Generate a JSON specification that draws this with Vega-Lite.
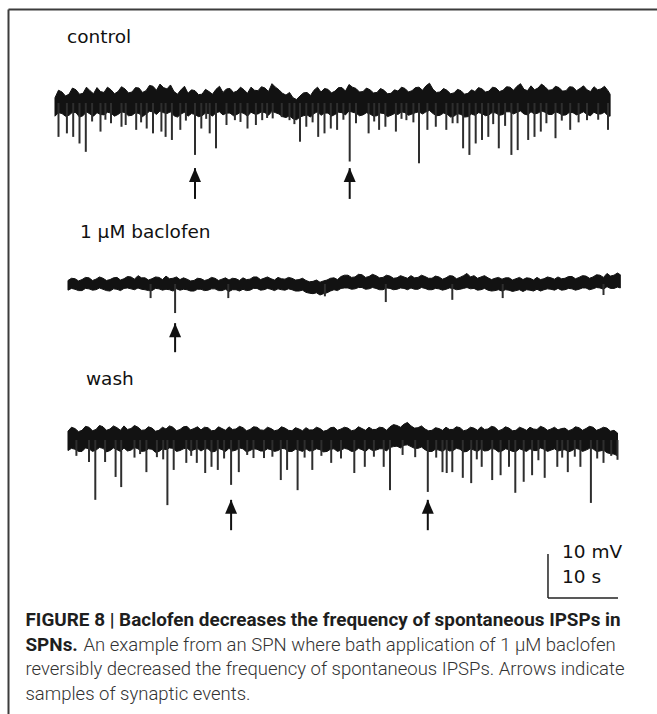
{
  "$schema": "https://vega.github.io/schema/vega-lite/v6.json",
  "width": 649,
  "height": 705,
  "autosize": {"type": "none"},
  "padding": {"left": 8, "top": 9, "right": 0, "bottom": 0},
  "background": "#ffffff",
  "config": {"view": {"stroke": null}},
  "datasets": {
    "controlBand": [
      {"t":0,"hi":1.2,"lo":-3.0},{"t":0.5,"hi":2.9,"lo":-2.2},{"t":1,"hi":2.5,"lo":-2.4},{"t":1.5,"hi":1.6,"lo":-3.0},{"t":2,"hi":2.0,"lo":-2.8},{"t":2.5,"hi":3.4,"lo":-2.1},
      {"t":3,"hi":3.0,"lo":-2.2},{"t":3.5,"hi":2.0,"lo":-3.2},{"t":4,"hi":2.2,"lo":-2.9},{"t":4.5,"hi":3.6,"lo":-2.0},{"t":5,"hi":2.8,"lo":-2.5},{"t":5.5,"hi":2.1,"lo":-3.0},
      {"t":6,"hi":3.5,"lo":-2.2},{"t":6.5,"hi":2.6,"lo":-2.6},{"t":7,"hi":2.4,"lo":-2.7},{"t":7.5,"hi":3.6,"lo":-2.1},{"t":8,"hi":3.0,"lo":-2.3},{"t":8.5,"hi":2.1,"lo":-3.0},
      {"t":9,"hi":2.6,"lo":-2.6},{"t":9.5,"hi":3.7,"lo":-2.0},{"t":10,"hi":3.2,"lo":-2.2},{"t":10.5,"hi":2.3,"lo":-2.9},{"t":11,"hi":2.5,"lo":-2.8},{"t":11.5,"hi":3.5,"lo":-2.2},
      {"t":12,"hi":3.4,"lo":-2.4},{"t":12.5,"hi":2.4,"lo":-3.1},{"t":13,"hi":2.8,"lo":-2.5},{"t":13.5,"hi":4.0,"lo":-1.9},{"t":14,"hi":3.8,"lo":-2.0},{"t":14.5,"hi":2.9,"lo":-2.6},
      {"t":15,"hi":4.3,"lo":-1.8},{"t":15.5,"hi":3.5,"lo":-2.2},{"t":16,"hi":3.2,"lo":-2.4},{"t":16.5,"hi":4.1,"lo":-2.0},{"t":17,"hi":2.6,"lo":-2.9},{"t":17.5,"hi":2.0,"lo":-3.2},
      {"t":18,"hi":3.0,"lo":-2.5},{"t":18.5,"hi":3.8,"lo":-2.1},{"t":19,"hi":2.2,"lo":-3.0},{"t":19.5,"hi":3.0,"lo":-2.4},{"t":20,"hi":2.8,"lo":-2.6},{"t":20.5,"hi":1.9,"lo":-3.1},
      {"t":21,"hi":2.0,"lo":-2.9},{"t":21.5,"hi":3.1,"lo":-2.3},{"t":22,"hi":2.6,"lo":-2.4},{"t":22.5,"hi":2.0,"lo":-3.0},{"t":23,"hi":3.1,"lo":-2.2},{"t":23.5,"hi":3.8,"lo":-2.0},
      {"t":24,"hi":2.4,"lo":-2.7},{"t":24.5,"hi":3.2,"lo":-2.3},{"t":25,"hi":3.3,"lo":-2.3},{"t":25.5,"hi":2.4,"lo":-2.9},{"t":26,"hi":2.7,"lo":-2.6},{"t":26.5,"hi":3.6,"lo":-2.1},
      {"t":27,"hi":3.0,"lo":-2.4},{"t":27.5,"hi":2.2,"lo":-3.0},{"t":28,"hi":3.6,"lo":-2.1},{"t":28.5,"hi":2.9,"lo":-2.5},{"t":29,"hi":2.8,"lo":-2.5},{"t":29.5,"hi":3.7,"lo":-2.0},
      {"t":30,"hi":3.4,"lo":-2.2},{"t":30.5,"hi":2.6,"lo":-2.8},{"t":31,"hi":4.4,"lo":-1.9},{"t":31.5,"hi":3.6,"lo":-2.2},{"t":32,"hi":3.0,"lo":-2.5},{"t":32.5,"hi":2.2,"lo":-3.1},
      {"t":33,"hi":1.8,"lo":-3.3},{"t":33.5,"hi":2.4,"lo":-2.9},{"t":34,"hi":1.2,"lo":-3.6},{"t":34.5,"hi":0.8,"lo":-3.8},{"t":35,"hi":1.6,"lo":-3.2},{"t":35.5,"hi":2.3,"lo":-2.9},
      {"t":36,"hi":2.4,"lo":-2.7},{"t":36.5,"hi":1.7,"lo":-3.2},{"t":37,"hi":2.9,"lo":-2.4},{"t":37.5,"hi":3.6,"lo":-2.0},{"t":38,"hi":2.5,"lo":-2.8},{"t":38.5,"hi":3.3,"lo":-2.3},
      {"t":39,"hi":3.1,"lo":-2.3},{"t":39.5,"hi":2.3,"lo":-3.0},{"t":40,"hi":2.7,"lo":-2.6},{"t":40.5,"hi":3.5,"lo":-2.1},{"t":41,"hi":3.5,"lo":-2.2},{"t":41.5,"hi":2.7,"lo":-2.7},
      {"t":42,"hi":4.2,"lo":-1.8},{"t":42.5,"hi":3.6,"lo":-2.1},{"t":43,"hi":3.3,"lo":-2.3},{"t":43.5,"hi":2.5,"lo":-2.9},{"t":44,"hi":2.6,"lo":-2.7},{"t":44.5,"hi":3.4,"lo":-2.2},
      {"t":45,"hi":3.0,"lo":-2.5},{"t":45.5,"hi":2.3,"lo":-3.0},{"t":46,"hi":2.4,"lo":-2.9},{"t":46.5,"hi":3.3,"lo":-2.3},{"t":47,"hi":2.9,"lo":-2.4},{"t":47.5,"hi":2.1,"lo":-3.1},
      {"t":48,"hi":2.2,"lo":-2.8},{"t":48.5,"hi":3.0,"lo":-2.4},{"t":49,"hi":2.7,"lo":-2.6},{"t":49.5,"hi":3.6,"lo":-2.0},{"t":50,"hi":3.3,"lo":-2.2},{"t":50.5,"hi":2.5,"lo":-2.8},
      {"t":51,"hi":2.8,"lo":-2.5},{"t":51.5,"hi":3.5,"lo":-2.2},{"t":52,"hi":3.6,"lo":-2.0},{"t":52.5,"hi":2.9,"lo":-2.5},{"t":53,"hi":3.9,"lo":-2.0},{"t":53.5,"hi":4.5,"lo":-1.7},
      {"t":54,"hi":3.1,"lo":-2.4},{"t":54.5,"hi":2.4,"lo":-2.9},{"t":55,"hi":2.5,"lo":-2.8},{"t":55.5,"hi":3.3,"lo":-2.3},{"t":56,"hi":2.9,"lo":-2.5},{"t":56.5,"hi":2.1,"lo":-3.2},
      {"t":57,"hi":2.3,"lo":-3.0},{"t":57.5,"hi":3.1,"lo":-2.4},{"t":58,"hi":2.8,"lo":-2.6},{"t":58.5,"hi":2.0,"lo":-3.2},{"t":59,"hi":2.2,"lo":-3.1},{"t":59.5,"hi":3.0,"lo":-2.5},
      {"t":60,"hi":2.6,"lo":-2.8},{"t":60.5,"hi":3.5,"lo":-2.2},{"t":61,"hi":3.2,"lo":-2.4},{"t":61.5,"hi":2.5,"lo":-2.9},{"t":62,"hi":2.7,"lo":-2.7},{"t":62.5,"hi":3.6,"lo":-2.1},
      {"t":63,"hi":3.4,"lo":-2.3},{"t":63.5,"hi":2.6,"lo":-2.8},{"t":64,"hi":2.9,"lo":-2.6},{"t":64.5,"hi":3.7,"lo":-2.0},{"t":65,"hi":3.6,"lo":-2.0},{"t":65.5,"hi":2.9,"lo":-2.5},
      {"t":66,"hi":3.8,"lo":-2.1},{"t":66.5,"hi":4.4,"lo":-1.8},{"t":67,"hi":3.1,"lo":-2.5},{"t":67.5,"hi":2.8,"lo":-2.7},{"t":68,"hi":3.9,"lo":-2.0},{"t":68.5,"hi":3.0,"lo":-2.5},
      {"t":69,"hi":3.4,"lo":-2.3},{"t":69.5,"hi":4.3,"lo":-1.8},{"t":70,"hi":3.7,"lo":-2.1},{"t":70.5,"hi":2.9,"lo":-2.6},{"t":71,"hi":3.0,"lo":-2.6},{"t":71.5,"hi":3.8,"lo":-2.0},
      {"t":72,"hi":3.5,"lo":-2.3},{"t":72.5,"hi":2.7,"lo":-2.8},{"t":73,"hi":2.8,"lo":-2.7},{"t":73.5,"hi":3.7,"lo":-2.1},{"t":74,"hi":3.6,"lo":-2.2},{"t":74.5,"hi":2.8,"lo":-2.7},
      {"t":75,"hi":3.3,"lo":-2.4},{"t":75.5,"hi":3.9,"lo":-2.0},{"t":76,"hi":3.0,"lo":-2.6},{"t":76.5,"hi":2.6,"lo":-2.9},{"t":77,"hi":3.7,"lo":-2.1},{"t":77.5,"hi":3.0,"lo":-2.5},
      {"t":78,"hi":3.2,"lo":-2.5},{"t":78.5,"hi":3.8,"lo":-2.1},{"t":79,"hi":2.8,"lo":-2.9},{"t":79.3,"hi":2.0,"lo":-3.0}
    ],
    "controlEvents": [
      {"t":0.5,"peak":-7.7},{"t":1.7,"peak":-6.9},{"t":2.6,"peak":-7.7},{"t":3.5,"peak":-9.2},{"t":4.4,"peak":-11.1},
      {"t":5.3,"peak":-4.2},{"t":6.5,"peak":-6.5},{"t":7.2,"peak":-3.8},{"t":8.0,"peak":-4.6},{"t":9.5,"peak":-5.4},{"t":10.1,"peak":-5.0},{"t":11.6,"peak":-6.1},
      {"t":12.3,"peak":-4.4},{"t":13.1,"peak":-5.8},{"t":14.0,"peak":-6.9},{"t":15.2,"peak":-6.5},{"t":15.8,"peak":-7.7},{"t":16.7,"peak":-8.4},
      {"t":17.9,"peak":-6.1},{"t":18.7,"peak":-4.0},{"t":20.0,"peak":-11.8},{"t":20.9,"peak":-5.8},{"t":21.6,"peak":-3.6},{"t":22.1,"peak":-6.9},{"t":23.0,"peak":-10.3},
      {"t":24.5,"peak":-5.0},{"t":25.7,"peak":-3.9},{"t":26.5,"peak":-4.3},{"t":27.5,"peak":-5.8},{"t":28.7,"peak":-5.0},{"t":29.6,"peak":-3.9},
      {"t":30.3,"peak":-3.4},{"t":31.1,"peak":-3.5},{"t":32.4,"peak":-3.2},{"t":33.5,"peak":-3.9},{"t":34.2,"peak":-4.8},{"t":35.0,"peak":-8.8},{"t":35.9,"peak":-5.4},
      {"t":36.8,"peak":-4.4},{"t":37.6,"peak":-7.7},{"t":38.5,"peak":-6.9},{"t":39.4,"peak":-5.8},{"t":40.3,"peak":-6.1},{"t":41.2,"peak":-3.8},{"t":42.1,"peak":-13.3},{"t":43.0,"peak":-4.6},
      {"t":44.8,"peak":-6.9},{"t":45.6,"peak":-4.2},{"t":46.3,"peak":-6.1},{"t":47.2,"peak":-5.4},{"t":48.7,"peak":-6.5},{"t":49.5,"peak":-3.6},{"t":50.2,"peak":-3.9},
      {"t":51.2,"peak":-4.4},{"t":52.0,"peak":-13.7},{"t":53.2,"peak":-6.1},{"t":54.4,"peak":-5.4},{"t":55.9,"peak":-6.1},{"t":56.8,"peak":-4.6},
      {"t":57.5,"peak":-4.6},{"t":58.3,"peak":-10.3},{"t":59.2,"peak":-11.8},{"t":60.1,"peak":-9.2},{"t":61.0,"peak":-8.4},{"t":61.9,"peak":-7.7},
      {"t":62.6,"peak":-4.8},{"t":63.4,"peak":-10.3},{"t":64.3,"peak":-5.2},{"t":65.2,"peak":-11.8},{"t":66.1,"peak":-10.7},{"t":67.6,"peak":-8.4},{"t":68.5,"peak":-7.7},
      {"t":69.4,"peak":-6.5},{"t":70.2,"peak":-4.6},{"t":71.5,"peak":-8.0},{"t":72.4,"peak":-4.0},{"t":73.6,"peak":-6.1},{"t":74.8,"peak":-4.4},{"t":76.0,"peak":-3.9},
      {"t":77.6,"peak":-3.8},{"t":79.0,"peak":-6.1}
    ],
    "controlArrows": [{"t":20.0,"tip":-14.8,"end":-21.8},{"t":42.1,"tip":-14.8,"end":-21.8}],
    "controlLabels": [{"t":1.71,"v":13.64,"text":"control"}],
    "baclofenBand": [
      {"t":0,"hi":0.8,"lo":-1.4},{"t":0.5,"hi":1.3,"lo":-1.0},{"t":1,"hi":1.2,"lo":-1.2},{"t":1.5,"hi":0.7,"lo":-1.5},{"t":2,"hi":1.0,"lo":-1.5},{"t":2.5,"hi":1.5,"lo":-1.0},
      {"t":3,"hi":1.4,"lo":-1.1},{"t":3.5,"hi":0.8,"lo":-1.4},{"t":4,"hi":1.1,"lo":-1.3},{"t":4.5,"hi":1.6,"lo":-0.9},{"t":5,"hi":1.3,"lo":-1.2},{"t":5.5,"hi":0.8,"lo":-1.5},
      {"t":6,"hi":1.0,"lo":-1.6},{"t":6.5,"hi":1.4,"lo":-1.1},{"t":7,"hi":1.5,"lo":-1.2},{"t":7.5,"hi":0.9,"lo":-1.5},{"t":8,"hi":1.2,"lo":-1.0},{"t":8.5,"hi":1.7,"lo":-0.9},
      {"t":9,"hi":1.6,"lo":-1.1},{"t":9.5,"hi":1.1,"lo":-1.3},{"t":10,"hi":1.9,"lo":-0.9},{"t":10.5,"hi":1.4,"lo":-1.2},{"t":11,"hi":1.4,"lo":-1.3},{"t":11.5,"hi":0.9,"lo":-1.5},
      {"t":12,"hi":1.2,"lo":-1.5},{"t":12.5,"hi":1.6,"lo":-1.0},{"t":13,"hi":1.5,"lo":-1.1},{"t":13.5,"hi":1.0,"lo":-1.4},{"t":14,"hi":1.8,"lo":-1.2},{"t":14.5,"hi":1.2,"lo":-1.3},
      {"t":15,"hi":1.3,"lo":-1.6},{"t":15.5,"hi":1.6,"lo":-1.1},{"t":16,"hi":1.0,"lo":-1.4},{"t":16.5,"hi":1.4,"lo":-1.2},{"t":17,"hi":1.1,"lo":-1.3},{"t":17.5,"hi":0.7,"lo":-1.6},
      {"t":18,"hi":0.8,"lo":-1.6},{"t":18.5,"hi":1.3,"lo":-1.2},{"t":19,"hi":1.2,"lo":-1.2},{"t":19.5,"hi":0.8,"lo":-1.5},{"t":20,"hi":1.0,"lo":-1.4},{"t":20.5,"hi":1.5,"lo":-1.1},
      {"t":21,"hi":1.3,"lo":-1.1},{"t":21.5,"hi":0.8,"lo":-1.5},{"t":22,"hi":1.1,"lo":-1.5},{"t":22.5,"hi":1.4,"lo":-1.2},{"t":23,"hi":0.9,"lo":-1.7},{"t":23.5,"hi":1.3,"lo":-1.3},
      {"t":24,"hi":1.2,"lo":-1.3},{"t":24.5,"hi":0.8,"lo":-1.6},{"t":25,"hi":1.4,"lo":-1.2},{"t":25.5,"hi":1.0,"lo":-1.5},{"t":26,"hi":1.1,"lo":-1.4},{"t":26.5,"hi":1.6,"lo":-1.0},
      {"t":27,"hi":1.6,"lo":-1.0},{"t":27.5,"hi":1.0,"lo":-1.4},{"t":28,"hi":1.3,"lo":-1.3},{"t":28.5,"hi":1.6,"lo":-1.0},{"t":29,"hi":1.2,"lo":-1.2},{"t":29.5,"hi":0.9,"lo":-1.5},
      {"t":30,"hi":1.5,"lo":-1.1},{"t":30.5,"hi":1.2,"lo":-1.3},{"t":31,"hi":1.1,"lo":-1.4},{"t":31.5,"hi":1.5,"lo":-1.1},{"t":32,"hi":1.3,"lo":-1.3},{"t":32.5,"hi":0.9,"lo":-1.6},
      {"t":33,"hi":1.0,"lo":-1.6},{"t":33.5,"hi":1.3,"lo":-1.4},{"t":34,"hi":0.8,"lo":-1.9},{"t":34.5,"hi":0.5,"lo":-2.1},{"t":35,"hi":0.6,"lo":-2.2},{"t":35.5,"hi":0.9,"lo":-2.0},
      {"t":36,"hi":0.4,"lo":-2.5},{"t":36.5,"hi":0.7,"lo":-2.2},{"t":37,"hi":0.9,"lo":-2.0},{"t":37.5,"hi":1.3,"lo":-1.6},{"t":38,"hi":1.4,"lo":-1.3},{"t":38.5,"hi":1.0,"lo":-1.5},
      {"t":39,"hi":1.7,"lo":-1.0},{"t":39.5,"hi":2.0,"lo":-0.9},{"t":40,"hi":2.0,"lo":-0.9},{"t":40.5,"hi":1.5,"lo":-1.2},{"t":41,"hi":1.6,"lo":-1.1},{"t":41.5,"hi":2.2,"lo":-0.8},
      {"t":42,"hi":2.1,"lo":-0.8},{"t":42.5,"hi":1.5,"lo":-1.2},{"t":43,"hi":1.7,"lo":-1.1},{"t":43.5,"hi":2.2,"lo":-0.8},{"t":44,"hi":1.9,"lo":-1.0},{"t":44.5,"hi":1.4,"lo":-1.3},
      {"t":45,"hi":1.5,"lo":-1.3},{"t":45.5,"hi":2.0,"lo":-0.9},{"t":46,"hi":1.8,"lo":-1.0},{"t":46.5,"hi":1.3,"lo":-1.3},{"t":47,"hi":1.4,"lo":-1.2},{"t":47.5,"hi":1.9,"lo":-0.9},
      {"t":48,"hi":1.6,"lo":-1.0},{"t":48.5,"hi":1.3,"lo":-1.3},{"t":49,"hi":1.9,"lo":-0.9},{"t":49.5,"hi":1.4,"lo":-1.2},{"t":50,"hi":1.5,"lo":-1.2},{"t":50.5,"hi":2.0,"lo":-0.8},
      {"t":51,"hi":1.7,"lo":-1.0},{"t":51.5,"hi":1.3,"lo":-1.3},{"t":52,"hi":1.3,"lo":-1.3},{"t":52.5,"hi":1.8,"lo":-1.0},{"t":53,"hi":1.6,"lo":-1.1},{"t":53.5,"hi":1.1,"lo":-1.4},
      {"t":54,"hi":1.4,"lo":-1.2},{"t":54.5,"hi":1.9,"lo":-0.9},{"t":55,"hi":1.8,"lo":-1.0},{"t":55.5,"hi":1.2,"lo":-1.3},{"t":56,"hi":1.5,"lo":-1.2},{"t":56.5,"hi":1.9,"lo":-1.0},
      {"t":57,"hi":2.4,"lo":-0.8},{"t":57.5,"hi":1.6,"lo":-1.1},{"t":58,"hi":1.9,"lo":-1.0},{"t":58.5,"hi":1.3,"lo":-1.4},{"t":59,"hi":1.6,"lo":-1.3},{"t":59.5,"hi":1.9,"lo":-1.0},
      {"t":60,"hi":1.4,"lo":-1.4},{"t":60.5,"hi":1.0,"lo":-1.6},{"t":61,"hi":1.3,"lo":-1.5},{"t":61.5,"hi":1.5,"lo":-1.3},{"t":62,"hi":1.1,"lo":-1.6},{"t":62.5,"hi":1.4,"lo":-1.3},
      {"t":63,"hi":1.4,"lo":-1.4},{"t":63.5,"hi":0.9,"lo":-1.7},{"t":64,"hi":1.2,"lo":-1.5},{"t":64.5,"hi":1.5,"lo":-1.3},{"t":65,"hi":1.0,"lo":-1.7},{"t":65.5,"hi":1.4,"lo":-1.3},
      {"t":66,"hi":1.3,"lo":-1.4},{"t":66.5,"hi":0.9,"lo":-1.6},{"t":67,"hi":1.5,"lo":-1.2},{"t":67.5,"hi":1.0,"lo":-1.6},{"t":68,"hi":1.2,"lo":-1.3},{"t":68.5,"hi":1.6,"lo":-1.1},
      {"t":69,"hi":1.4,"lo":-1.2},{"t":69.5,"hi":1.1,"lo":-1.4},{"t":70,"hi":1.6,"lo":-1.0},{"t":70.5,"hi":1.2,"lo":-1.4},{"t":71,"hi":1.3,"lo":-1.3},{"t":71.5,"hi":1.7,"lo":-1.0},
      {"t":72,"hi":1.7,"lo":-1.1},{"t":72.5,"hi":1.2,"lo":-1.4},{"t":73,"hi":1.5,"lo":-1.2},{"t":73.5,"hi":1.9,"lo":-0.9},{"t":74,"hi":1.8,"lo":-0.9},{"t":74.5,"hi":1.3,"lo":-1.3},
      {"t":75,"hi":1.6,"lo":-1.1},{"t":75.5,"hi":2.1,"lo":-0.8},{"t":76,"hi":2.0,"lo":-0.9},{"t":76.5,"hi":1.5,"lo":-1.2},{"t":77,"hi":2.4,"lo":-0.6},{"t":77.5,"hi":1.8,"lo":-1.0},
      {"t":78,"hi":2.0,"lo":-1.0},{"t":78.5,"hi":2.5,"lo":-0.7},{"t":78.9,"hi":2.1,"lo":-0.9}
    ],
    "baclofenEvents": [
      {"t":11.8,"peak":-3.2},{"t":15.3,"peak":-6.6},{"t":22.9,"peak":-3.2},{"t":36.7,"peak":-2.8},{"t":45.4,"peak":-4.1},
      {"t":54.9,"peak":-3.6},{"t":62.1,"peak":-3.2},{"t":76.5,"peak":-2.5}
    ],
    "baclofenArrows": [{"t":15.3,"tip":-8.9,"end":-15.5}],
    "baclofenLabels": [{"t":1.71,"v":10.45,"text":"1 µM baclofen"}],
    "washBand": [
      {"t":0,"hi":2.0,"lo":-2.4},{"t":0.5,"hi":2.9,"lo":-1.9},{"t":1,"hi":2.6,"lo":-2.1},{"t":1.5,"hi":1.9,"lo":-2.6},{"t":2,"hi":2.2,"lo":-2.6},{"t":2.5,"hi":3.1,"lo":-1.8},
      {"t":3,"hi":2.9,"lo":-2.0},{"t":3.5,"hi":2.1,"lo":-2.6},{"t":4,"hi":2.4,"lo":-2.3},{"t":4.5,"hi":3.3,"lo":-1.7},{"t":5,"hi":3.0,"lo":-1.9},{"t":5.5,"hi":2.2,"lo":-2.7},
      {"t":6,"hi":2.5,"lo":-2.4},{"t":6.5,"hi":3.2,"lo":-1.8},{"t":7,"hi":2.8,"lo":-2.2},{"t":7.5,"hi":2.2,"lo":-2.6},{"t":8,"hi":3.2,"lo":-1.8},{"t":8.5,"hi":2.4,"lo":-2.5},
      {"t":9,"hi":2.6,"lo":-2.3},{"t":9.5,"hi":3.3,"lo":-1.7},{"t":10,"hi":2.9,"lo":-2.0},{"t":10.5,"hi":2.2,"lo":-2.6},{"t":11,"hi":2.3,"lo":-2.5},{"t":11.5,"hi":3.0,"lo":-2.0},
      {"t":12,"hi":2.7,"lo":-2.1},{"t":12.5,"hi":2.0,"lo":-2.8},{"t":13,"hi":2.2,"lo":-2.6},{"t":13.5,"hi":2.9,"lo":-2.0},{"t":14,"hi":2.5,"lo":-2.2},{"t":14.5,"hi":3.2,"lo":-1.8},
      {"t":15,"hi":2.9,"lo":-1.9},{"t":15.5,"hi":2.1,"lo":-2.6},{"t":16,"hi":2.4,"lo":-2.4},{"t":16.5,"hi":3.0,"lo":-2.0},{"t":17,"hi":3.1,"lo":-1.8},{"t":17.5,"hi":2.3,"lo":-2.5},
      {"t":18,"hi":2.6,"lo":-2.2},{"t":18.5,"hi":3.0,"lo":-1.9},{"t":19,"hi":2.3,"lo":-2.5},{"t":19.5,"hi":2.9,"lo":-2.0},{"t":20,"hi":2.8,"lo":-2.0},{"t":20.5,"hi":2.1,"lo":-2.7},
      {"t":21,"hi":2.2,"lo":-2.6},{"t":21.5,"hi":3.0,"lo":-1.9},{"t":22,"hi":2.6,"lo":-2.2},{"t":22.5,"hi":2.2,"lo":-2.6},{"t":23,"hi":3.0,"lo":-1.9},{"t":23.5,"hi":2.4,"lo":-2.5},
      {"t":24,"hi":2.5,"lo":-2.3},{"t":24.5,"hi":3.1,"lo":-1.8},{"t":25,"hi":2.8,"lo":-2.0},{"t":25.5,"hi":2.1,"lo":-2.7},{"t":26,"hi":2.4,"lo":-2.4},{"t":26.5,"hi":3.0,"lo":-2.0},
      {"t":27,"hi":2.9,"lo":-2.1},{"t":27.5,"hi":2.3,"lo":-2.5},{"t":28,"hi":2.2,"lo":-2.5},{"t":28.5,"hi":2.9,"lo":-2.0},{"t":29,"hi":2.6,"lo":-2.2},{"t":29.5,"hi":2.1,"lo":-2.6},
      {"t":30,"hi":2.3,"lo":-2.4},{"t":30.5,"hi":3.0,"lo":-1.9},{"t":31,"hi":2.7,"lo":-2.0},{"t":31.5,"hi":2.2,"lo":-2.6},{"t":32,"hi":2.1,"lo":-2.6},{"t":32.5,"hi":2.8,"lo":-2.1},
      {"t":33,"hi":2.5,"lo":-2.3},{"t":33.5,"hi":2.1,"lo":-2.6},{"t":34,"hi":2.8,"lo":-2.0},{"t":34.5,"hi":2.3,"lo":-2.5},{"t":35,"hi":2.3,"lo":-2.4},{"t":35.5,"hi":2.9,"lo":-2.0},
      {"t":36,"hi":2.6,"lo":-2.2},{"t":36.5,"hi":2.0,"lo":-2.7},{"t":37,"hi":2.2,"lo":-2.6},{"t":37.5,"hi":2.8,"lo":-2.1},{"t":38,"hi":2.9,"lo":-2.0},{"t":38.5,"hi":2.2,"lo":-2.6},
      {"t":39,"hi":2.5,"lo":-2.3},{"t":39.5,"hi":2.9,"lo":-1.9},{"t":40,"hi":2.7,"lo":-2.1},{"t":40.5,"hi":2.1,"lo":-2.6},{"t":41,"hi":2.3,"lo":-2.5},{"t":41.5,"hi":3.0,"lo":-1.9},
      {"t":42,"hi":2.6,"lo":-2.2},{"t":42.5,"hi":2.2,"lo":-2.6},{"t":43,"hi":2.9,"lo":-1.9},{"t":43.5,"hi":2.4,"lo":-2.4},{"t":44,"hi":2.4,"lo":-2.3},{"t":44.5,"hi":2.9,"lo":-2.0},
      {"t":45,"hi":2.8,"lo":-2.0},{"t":45.5,"hi":2.2,"lo":-2.5},{"t":46,"hi":3.0,"lo":-1.7},{"t":46.5,"hi":3.5,"lo":-1.5},{"t":47,"hi":3.3,"lo":-1.4},{"t":47.5,"hi":2.9,"lo":-1.8},
      {"t":48,"hi":3.6,"lo":-1.2},{"t":48.5,"hi":4.0,"lo":-1.1},{"t":49,"hi":3.2,"lo":-1.5},{"t":49.5,"hi":2.7,"lo":-1.9},{"t":50,"hi":2.8,"lo":-1.9},{"t":50.5,"hi":3.2,"lo":-1.6},
      {"t":51,"hi":2.5,"lo":-2.2},{"t":51.5,"hi":2.1,"lo":-2.6},{"t":52,"hi":2.2,"lo":-2.6},{"t":52.5,"hi":2.8,"lo":-2.1},{"t":53,"hi":2.6,"lo":-2.3},{"t":53.5,"hi":2.2,"lo":-2.6},
      {"t":54,"hi":2.9,"lo":-2.0},{"t":54.5,"hi":2.4,"lo":-2.5},{"t":55,"hi":2.4,"lo":-2.4},{"t":55.5,"hi":3.0,"lo":-1.9},{"t":56,"hi":2.8,"lo":-2.1},{"t":56.5,"hi":2.1,"lo":-2.7},
      {"t":57,"hi":2.3,"lo":-2.6},{"t":57.5,"hi":2.9,"lo":-2.0},{"t":58,"hi":2.7,"lo":-2.3},{"t":58.5,"hi":2.2,"lo":-2.6},{"t":59,"hi":3.0,"lo":-2.0},{"t":59.5,"hi":2.4,"lo":-2.5},
      {"t":60,"hi":2.5,"lo":-2.4},{"t":60.5,"hi":3.1,"lo":-1.9},{"t":61,"hi":2.9,"lo":-2.1},{"t":61.5,"hi":2.1,"lo":-2.7},{"t":62,"hi":2.4,"lo":-2.5},{"t":62.5,"hi":3.0,"lo":-2.0},
      {"t":63,"hi":2.7,"lo":-2.2},{"t":63.5,"hi":2.1,"lo":-2.6},{"t":64,"hi":2.2,"lo":-2.6},{"t":64.5,"hi":2.9,"lo":-2.0},{"t":65,"hi":2.6,"lo":-2.3},{"t":65.5,"hi":2.2,"lo":-2.6},
      {"t":66,"hi":2.9,"lo":-2.0},{"t":66.5,"hi":2.5,"lo":-2.4},{"t":67,"hi":2.4,"lo":-2.4},{"t":67.5,"hi":3.1,"lo":-1.8},{"t":68,"hi":2.8,"lo":-2.1},{"t":68.5,"hi":2.2,"lo":-2.6},
      {"t":69,"hi":2.5,"lo":-2.3},{"t":69.5,"hi":2.9,"lo":-2.0},{"t":70,"hi":2.3,"lo":-2.5},{"t":70.5,"hi":2.6,"lo":-2.3},{"t":71,"hi":2.7,"lo":-2.2},{"t":71.5,"hi":2.1,"lo":-2.7},
      {"t":72,"hi":2.4,"lo":-2.4},{"t":72.5,"hi":3.0,"lo":-1.9},{"t":73,"hi":2.8,"lo":-2.1},{"t":73.5,"hi":2.2,"lo":-2.6},{"t":74,"hi":2.6,"lo":-2.3},{"t":74.5,"hi":3.1,"lo":-1.9},
      {"t":75,"hi":2.9,"lo":-2.0},{"t":75.5,"hi":2.2,"lo":-2.6},{"t":76,"hi":2.5,"lo":-2.5},{"t":76.5,"hi":2.9,"lo":-2.3},{"t":77,"hi":2.7,"lo":-2.9},{"t":77.5,"hi":2.0,"lo":-3.1},
      {"t":78,"hi":2.2,"lo":-3.2},{"t":78.5,"hi":1.6,"lo":-3.6}
    ],
    "washEvents": [
      {"t":1.2,"peak":-3.6},{"t":3.0,"peak":-5.0},{"t":3.9,"peak":-13.6},{"t":5.3,"peak":-5.0},{"t":6.8,"peak":-8.4},{"t":7.6,"peak":-10.7},
      {"t":9.5,"peak":-4.0},{"t":10.3,"peak":-3.2},{"t":11.2,"peak":-7.3},{"t":12.7,"peak":-3.9},{"t":13.6,"peak":-4.4},{"t":14.2,"peak":-14.8},{"t":15.1,"peak":-6.8},{"t":16.9,"peak":-5.2},
      {"t":17.6,"peak":-3.6},{"t":18.4,"peak":-5.2},{"t":19.6,"peak":-7.5},{"t":20.5,"peak":-6.1},{"t":21.4,"peak":-6.8},{"t":22.3,"peak":-4.2},{"t":23.3,"peak":-10.2},
      {"t":24.4,"peak":-7.3},{"t":25.6,"peak":-3.4},{"t":26.5,"peak":-4.1},{"t":28.0,"peak":-4.1},{"t":29.2,"peak":-3.8},{"t":30.4,"peak":-9.1},{"t":31.3,"peak":-6.8},
      {"t":32.8,"peak":-11.4},{"t":33.8,"peak":-4.0},{"t":34.9,"peak":-6.8},{"t":36.2,"peak":-3.6},{"t":37.6,"peak":-5.2},{"t":39.0,"peak":-4.2},{"t":40.9,"peak":-7.5},{"t":42.4,"peak":-6.1},
      {"t":43.7,"peak":-3.8},{"t":45.1,"peak":-6.1},{"t":46.0,"peak":-11.4},{"t":47.8,"peak":-3.4},{"t":49.6,"peak":-3.9},{"t":51.4,"peak":-11.8},{"t":52.6,"peak":-4.0},{"t":53.5,"peak":-7.3},
      {"t":54.1,"peak":-7.5},{"t":54.9,"peak":-7.3},{"t":56.4,"peak":-8.6},{"t":57.6,"peak":-9.8},{"t":58.4,"peak":-4.4},{"t":59.1,"peak":-6.1},
      {"t":60.6,"peak":-9.1},{"t":61.8,"peak":-8.0},{"t":63.0,"peak":-6.1},{"t":63.9,"peak":-12.0},{"t":65.1,"peak":-9.5},
      {"t":66.3,"peak":-8.0},{"t":67.2,"peak":-4.6},{"t":68.1,"peak":-8.6},{"t":69.9,"peak":-6.1},{"t":70.6,"peak":-4.0},{"t":71.4,"peak":-7.3},{"t":72.4,"peak":-3.8},{"t":73.2,"peak":-6.1},
      {"t":74.7,"peak":-14.3},{"t":75.6,"peak":-4.2},{"t":76.5,"peak":-5.2},{"t":77.6,"peak":-3.6},{"t":78.5,"peak":-4.5}
    ],
    "washArrows": [{"t":23.3,"tip":-13.6,"end":-20.5},{"t":51.4,"tip":-13.6,"end":-20.5}],
    "washLabels": [
      {"t":2.57,"v":12.5,"text":"wash"},
      {"t":70.57,"v":-26.8,"text":"10 mV"},
      {"t":70.57,"v":-32.6,"text":"10 s"}
    ],
    "scaleBar": [
      {"t":68.57,"v":-25.9,"t2":68.57,"v2":-35.9},
      {"t":68.57,"v":-35.9,"t2":78.57,"v2":-35.9}
    ],
    "caption": [
      {"line":1,"part":"bold","text":"FIGURE 8 | Baclofen decreases the frequency of spontaneous IPSPs in"},
      {"line":2,"part":"bold","text":"SPNs."},
      {"line":2,"part":"lead","text":"An example from an SPN where bath application of 1 μM baclofen"},
      {"line":3,"part":"body","text":"reversibly decreased the frequency of spontaneous IPSPs. Arrows indicate"},
      {"line":4,"part":"body","text":"samples of synaptic events."}
    ]
  },
  "resolve": {"scale": {"x": "independent", "y": "independent"}},
  "layer": [
    {
      "layer": [
        {
          "data": {"name": "controlBand"},
          "mark": {"type": "area", "color": "#121212", "stroke": "#121212", "strokeWidth": 1},
          "encoding": {
            "x": {"field": "t", "type": "quantitative", "scale": {"domain": [-6.714, 86], "nice": false, "zero": false},
                  "axis": {"orient": "top", "title": null, "labels": false, "ticks": false, "grid": false, "domain": true, "domainColor": "#3c3c3c", "domainWidth": 2}},
            "y": {"field": "hi", "type": "quantitative", "scale": {"domain": [-138.864, 21.364], "nice": false, "zero": false},
                  "axis": {"orient": "left", "title": null, "labels": false, "ticks": false, "grid": false, "domain": true, "domainColor": "#3c3c3c", "domainWidth": 2}},
            "y2": {"field": "lo"}
          }
        },
        {
          "data": {"name": "controlEvents"},
          "mark": {"type": "rule", "color": "#2e2e2e", "strokeWidth": 2},
          "encoding": {
            "x": {"field": "t", "type": "quantitative", "scale": {"domain": [-6.714, 86], "nice": false, "zero": false},
                  "axis": {"orient": "top", "title": null, "labels": false, "ticks": false, "grid": false, "domain": true, "domainColor": "#3c3c3c", "domainWidth": 2}},
            "y": {"field": "peak", "type": "quantitative", "scale": {"domain": [-138.864, 21.364], "nice": false, "zero": false},
                  "axis": {"orient": "left", "title": null, "labels": false, "ticks": false, "grid": false, "domain": true, "domainColor": "#3c3c3c", "domainWidth": 2}},
            "y2": {"datum": 0}
          }
        },
        {
          "data": {"name": "controlArrows"},
          "mark": {"type": "rule", "color": "#111111", "strokeWidth": 2},
          "encoding": {
            "x": {"field": "t", "type": "quantitative", "scale": {"domain": [-6.714, 86], "nice": false, "zero": false},
                  "axis": {"orient": "top", "title": null, "labels": false, "ticks": false, "grid": false, "domain": true, "domainColor": "#3c3c3c", "domainWidth": 2}},
            "y": {"field": "tip", "type": "quantitative", "scale": {"domain": [-138.864, 21.364], "nice": false, "zero": false},
                  "axis": {"orient": "left", "title": null, "labels": false, "ticks": false, "grid": false, "domain": true, "domainColor": "#3c3c3c", "domainWidth": 2}},
            "y2": {"field": "end"}
          }
        },
        {
          "data": {"name": "controlArrows"},
          "mark": {"type": "point", "shape": "M0,0L0.857,2L-0.857,2Z", "filled": true, "size": 196, "color": "#111111", "opacity": 1},
          "encoding": {
            "x": {"field": "t", "type": "quantitative", "scale": {"domain": [-6.714, 86], "nice": false, "zero": false},
                  "axis": {"orient": "top", "title": null, "labels": false, "ticks": false, "grid": false, "domain": true, "domainColor": "#3c3c3c", "domainWidth": 2}},
            "y": {"field": "tip", "type": "quantitative", "scale": {"domain": [-138.864, 21.364], "nice": false, "zero": false},
                  "axis": {"orient": "left", "title": null, "labels": false, "ticks": false, "grid": false, "domain": true, "domainColor": "#3c3c3c", "domainWidth": 2}}
          }
        },
        {
          "data": {"name": "controlLabels"},
          "mark": {"type": "text", "align": "left", "baseline": "alphabetic", "font": "DejaVu Sans", "fontSize": 18.5, "color": "#111111"},
          "encoding": {
            "x": {"field": "t", "type": "quantitative", "scale": {"domain": [-6.714, 86], "nice": false, "zero": false},
                  "axis": {"orient": "top", "title": null, "labels": false, "ticks": false, "grid": false, "domain": true, "domainColor": "#3c3c3c", "domainWidth": 2}},
            "y": {"field": "v", "type": "quantitative", "scale": {"domain": [-138.864, 21.364], "nice": false, "zero": false},
                  "axis": {"orient": "left", "title": null, "labels": false, "ticks": false, "grid": false, "domain": true, "domainColor": "#3c3c3c", "domainWidth": 2}},
            "text": {"field": "text"}
          }
        }
      ]
    },
    {
      "layer": [
        {
          "data": {"name": "baclofenBand"},
          "mark": {"type": "area", "color": "#121212", "stroke": "#121212", "strokeWidth": 1},
          "encoding": {
            "x": {"field": "t", "type": "quantitative", "scale": {"domain": [-8.571, 84.143], "nice": false, "zero": false}, "axis": null},
            "y": {"field": "hi", "type": "quantitative", "scale": {"domain": [-97.727, 62.5], "nice": false, "zero": false}, "axis": null},
            "y2": {"field": "lo"}
          }
        },
        {
          "data": {"name": "baclofenEvents"},
          "mark": {"type": "rule", "color": "#2e2e2e", "strokeWidth": 2},
          "encoding": {
            "x": {"field": "t", "type": "quantitative", "scale": {"domain": [-8.571, 84.143], "nice": false, "zero": false}, "axis": null},
            "y": {"field": "peak", "type": "quantitative", "scale": {"domain": [-97.727, 62.5], "nice": false, "zero": false}, "axis": null},
            "y2": {"datum": 0}
          }
        },
        {
          "data": {"name": "baclofenArrows"},
          "mark": {"type": "rule", "color": "#111111", "strokeWidth": 2},
          "encoding": {
            "x": {"field": "t", "type": "quantitative", "scale": {"domain": [-8.571, 84.143], "nice": false, "zero": false}, "axis": null},
            "y": {"field": "tip", "type": "quantitative", "scale": {"domain": [-97.727, 62.5], "nice": false, "zero": false}, "axis": null},
            "y2": {"field": "end"}
          }
        },
        {
          "data": {"name": "baclofenArrows"},
          "mark": {"type": "point", "shape": "M0,0L0.857,2L-0.857,2Z", "filled": true, "size": 196, "color": "#111111", "opacity": 1},
          "encoding": {
            "x": {"field": "t", "type": "quantitative", "scale": {"domain": [-8.571, 84.143], "nice": false, "zero": false}, "axis": null},
            "y": {"field": "tip", "type": "quantitative", "scale": {"domain": [-97.727, 62.5], "nice": false, "zero": false}, "axis": null}
          }
        },
        {
          "data": {"name": "baclofenLabels"},
          "mark": {"type": "text", "align": "left", "baseline": "alphabetic", "font": "DejaVu Sans", "fontSize": 18.5, "color": "#111111"},
          "encoding": {
            "x": {"field": "t", "type": "quantitative", "scale": {"domain": [-8.571, 84.143], "nice": false, "zero": false}, "axis": null},
            "y": {"field": "v", "type": "quantitative", "scale": {"domain": [-97.727, 62.5], "nice": false, "zero": false}, "axis": null},
            "text": {"field": "text"}
          }
        }
      ]
    },
    {
      "layer": [
        {
          "data": {"name": "washBand"},
          "mark": {"type": "area", "color": "#121212", "stroke": "#121212", "strokeWidth": 1},
          "encoding": {
            "x": {"field": "t", "type": "quantitative", "scale": {"domain": [-8.571, 84.143], "nice": false, "zero": false}, "axis": null},
            "y": {"field": "hi", "type": "quantitative", "scale": {"domain": [-62.273, 97.955], "nice": false, "zero": false}, "axis": null},
            "y2": {"field": "lo"}
          }
        },
        {
          "data": {"name": "washEvents"},
          "mark": {"type": "rule", "color": "#2e2e2e", "strokeWidth": 2},
          "encoding": {
            "x": {"field": "t", "type": "quantitative", "scale": {"domain": [-8.571, 84.143], "nice": false, "zero": false}, "axis": null},
            "y": {"field": "peak", "type": "quantitative", "scale": {"domain": [-62.273, 97.955], "nice": false, "zero": false}, "axis": null},
            "y2": {"datum": 0}
          }
        },
        {
          "data": {"name": "washArrows"},
          "mark": {"type": "rule", "color": "#111111", "strokeWidth": 2},
          "encoding": {
            "x": {"field": "t", "type": "quantitative", "scale": {"domain": [-8.571, 84.143], "nice": false, "zero": false}, "axis": null},
            "y": {"field": "tip", "type": "quantitative", "scale": {"domain": [-62.273, 97.955], "nice": false, "zero": false}, "axis": null},
            "y2": {"field": "end"}
          }
        },
        {
          "data": {"name": "washArrows"},
          "mark": {"type": "point", "shape": "M0,0L0.857,2L-0.857,2Z", "filled": true, "size": 196, "color": "#111111", "opacity": 1},
          "encoding": {
            "x": {"field": "t", "type": "quantitative", "scale": {"domain": [-8.571, 84.143], "nice": false, "zero": false}, "axis": null},
            "y": {"field": "tip", "type": "quantitative", "scale": {"domain": [-62.273, 97.955], "nice": false, "zero": false}, "axis": null}
          }
        },
        {
          "data": {"name": "scaleBar"},
          "mark": {"type": "rule", "color": "#222222", "strokeWidth": 1.5},
          "encoding": {
            "x": {"field": "t", "type": "quantitative", "scale": {"domain": [-8.571, 84.143], "nice": false, "zero": false}, "axis": null},
            "y": {"field": "v", "type": "quantitative", "scale": {"domain": [-62.273, 97.955], "nice": false, "zero": false}, "axis": null},
            "x2": {"field": "t2"},
            "y2": {"field": "v2"}
          }
        },
        {
          "data": {"name": "washLabels"},
          "mark": {"type": "text", "align": "left", "baseline": "alphabetic", "font": "DejaVu Sans", "fontSize": 18.5, "color": "#111111"},
          "encoding": {
            "x": {"field": "t", "type": "quantitative", "scale": {"domain": [-8.571, 84.143], "nice": false, "zero": false}, "axis": null},
            "y": {"field": "v", "type": "quantitative", "scale": {"domain": [-62.273, 97.955], "nice": false, "zero": false}, "axis": null},
            "text": {"field": "text"}
          }
        }
      ]
    },
    {
      "data": {"name": "caption"},
      "layer": [
        {
          "transform": [{"filter": "datum.part === 'bold'"}],
          "mark": {"type": "text", "align": "left", "baseline": "alphabetic", "font": "Roboto", "fontSize": 18.9, "fontWeight": "bold", "color": "#1e1e1e"},
          "encoding": {
            "x": {"datum": 0, "type": "quantitative", "scale": {"domain": [-0.0277, 1], "nice": false, "zero": false}, "axis": null},
            "y": {"field": "line", "type": "quantitative", "scale": {"domain": [-23.98, 4.563], "reverse": true, "nice": false, "zero": false}, "axis": null},
            "text": {"field": "text"}
          }
        },
        {
          "transform": [{"filter": "datum.part === 'lead'"}],
          "mark": {"type": "text", "align": "left", "baseline": "alphabetic", "dx": 58, "font": "Roboto", "fontSize": 18.5, "fontWeight": 300, "color": "#333333"},
          "encoding": {
            "x": {"datum": 0, "type": "quantitative", "scale": {"domain": [-0.0277, 1], "nice": false, "zero": false}, "axis": null},
            "y": {"field": "line", "type": "quantitative", "scale": {"domain": [-23.98, 4.563], "reverse": true, "nice": false, "zero": false}, "axis": null},
            "text": {"field": "text"}
          }
        },
        {
          "transform": [{"filter": "datum.part === 'body'"}],
          "mark": {"type": "text", "align": "left", "baseline": "alphabetic", "font": "Roboto", "fontSize": 18.5, "fontWeight": 300, "color": "#333333"},
          "encoding": {
            "x": {"datum": 0, "type": "quantitative", "scale": {"domain": [-0.0277, 1], "nice": false, "zero": false}, "axis": null},
            "y": {"field": "line", "type": "quantitative", "scale": {"domain": [-23.98, 4.563], "reverse": true, "nice": false, "zero": false}, "axis": null},
            "text": {"field": "text"}
          }
        }
      ]
    }
  ]
}
